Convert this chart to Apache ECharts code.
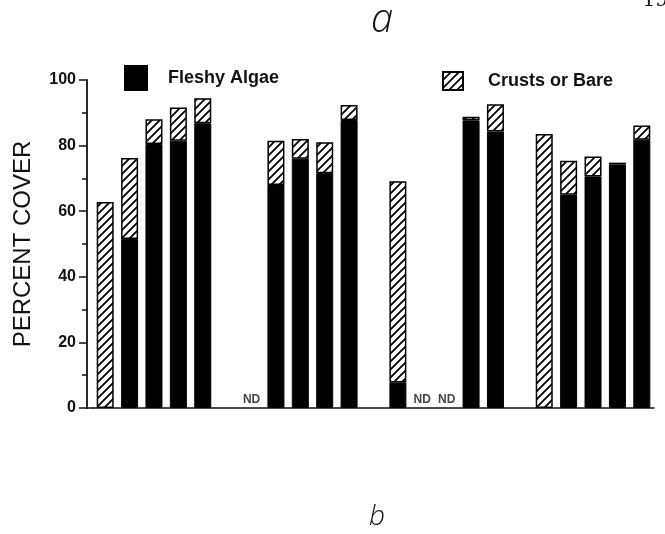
<!DOCTYPE html>
<html>
<head>
<meta charset="utf-8">
<script src="https://cdn.jsdelivr.net/npm/echarts@6/dist/echarts.min.js"></script>
<style>
  html, body { margin: 0; padding: 0; background: #fff; }
  #chart { width: 665px; height: 534px; }
</style>
</head>
<body>
<div id="chart"></div>
<script>
// bar slots on the x axis (the empty ones are the gaps between the 4 groups)
var slots = ['1', '2', '3', '4', '5', 'g1', '6', '7', '8', '9', '10', 'g2', '11', '12', '13', '14', '15', 'g3', '16', '17', '18', '19', '20'];
// percent cover, fleshy algae (black, bottom part)
var fleshy = [null, 51.5, 80.5, 81.5, 86.8, null, null, 68, 76, 71.6, 87.8, null, 7.8, null, null, 87.7, 84.3, null, null, 65, 70.6, 74.2, 81.8];
// percent cover, crusts or bare (hatched, top part)
var crusts = [62.8, 24.7, 7.5, 10.1, 7.6, null, null, 13.5, 6, 9.4, 4.6, null, 61.3, null, null, 1.1, 8.3, null, 83.5, 10.4, 6.1, 0.6, 4.3];
// slots with no data
var ndSlots = ['6', '12', '13'];
var yTicks = [0, 20, 40, 60, 80, 100];

// hatch pattern "/"
function hatch() {
  var n = 8;
  var c = document.createElement('canvas');
  c.width = n; c.height = n;
  var g = c.getContext('2d');
  g.fillStyle = '#fff';
  g.fillRect(0, 0, n, n);
  g.strokeStyle = '#000';
  g.lineWidth = 1.8;
  g.beginPath();
  g.moveTo(-1, n + 1); g.lineTo(n + 1, -1);
  g.moveTo(-1, 1); g.lineTo(1, -1);
  g.moveTo(n - 1, n + 1); g.lineTo(n + 1, n - 1);
  g.stroke();
  return c;
}
var hatchFill = { image: hatch(), repeat: 'repeat' };

var font = 'Liberation Sans, Arial, sans-serif';
var gridLeft = 93, gridBottom = 126, yOffset = 6;
var chart = echarts.init(document.getElementById('chart'));

var option = {
  animation: false,
  title: [
    { text: 'a', left: 366, top: -4,
      textStyle: { fontSize: 40, fontStyle: 'italic', fontWeight: 'lighter', fontFamily: 'Open Sans, sans-serif', color: '#111' } },
    { text: 'b', left: 364, top: 498,
      textStyle: { fontSize: 28, fontStyle: 'italic', fontWeight: 'lighter', fontFamily: 'Open Sans, sans-serif', color: '#111' } },
    { text: '19', right: -8, top: -14,
      textStyle: { fontSize: 20, fontWeight: 'normal', fontFamily: 'DejaVu Serif, serif', color: '#111' } }
  ],
  legend: [
    { left: 119, top: 60, itemWidth: 22, itemHeight: 24, icon: 'rect',
      data: ['Fleshy Algae'],
      textStyle: { fontSize: 18, fontWeight: 'bold', fontFamily: font, color: '#111', padding: [0, 0, 0, 16] } },
    { left: 437, top: 66, itemWidth: 20, itemHeight: 18, icon: 'rect',
      data: ['Crusts or Bare'],
      textStyle: { fontSize: 18, fontWeight: 'bold', fontFamily: font, color: '#111', padding: [0, 0, 0, 20] } }
  ],
  grid: { left: gridLeft, right: 11, top: 80, bottom: gridBottom },
  // short piece of the x axis line between the y axis and the grid edge
  graphic: [{
    type: 'line',
    shape: { x1: gridLeft - yOffset - 1, y1: 534 - gridBottom, x2: gridLeft + 1, y2: 534 - gridBottom },
    style: { stroke: '#111', lineWidth: 1.5 }
  }],
  xAxis: {
    type: 'category',
    data: slots,
    axisLine: { show: true, lineStyle: { color: '#111', width: 1.5 } },
    axisTick: { show: false },
    axisLabel: { show: false },
    splitLine: { show: false }
  },
  yAxis: {
    type: 'value',
    min: 0,
    max: 100,
    interval: 20,
    offset: yOffset,
    name: 'PERCENT COVER',
    nameLocation: 'middle',
    nameGap: 52,
    nameTextStyle: { fontSize: 24, fontFamily: font, color: '#111' },
    axisLine: { show: true, lineStyle: { color: '#111', width: 1.8 } },
    axisTick: { show: true, length: 8, lineStyle: { color: '#111', width: 1.5 } },
    minorTick: { show: true, splitNumber: 2, length: 5, lineStyle: { color: '#111', width: 1.5 } },
    axisLabel: {
      margin: 11, fontSize: 16, fontWeight: 'bold', fontFamily: font, color: '#111',
      formatter: function (v) { return yTicks.indexOf(v) >= 0 ? v : ''; }
    },
    splitLine: { show: false }
  },
  series: [
    {
      name: 'Fleshy Algae',
      type: 'bar',
      stack: 'cover',
      barWidth: 17,
      itemStyle: { color: '#000', borderColor: '#000', borderWidth: 1 },
      data: fleshy
    },
    {
      name: 'Crusts or Bare',
      type: 'bar',
      stack: 'cover',
      barWidth: 17,
      itemStyle: { color: hatchFill, borderColor: '#000', borderWidth: 1.5 },
      data: crusts
    },
    {
      name: 'ND',
      type: 'scatter',
      symbolSize: 0,
      silent: true,
      label: {
        show: true, position: 'top', distance: 2, formatter: 'ND',
        fontSize: 12, fontWeight: 'bold', fontFamily: font, color: '#111'
      },
      data: ndSlots.map(function (s) { return [s, 0]; })
    }
  ]
};
chart.setOption(option);
</script>
</body>
</html>
